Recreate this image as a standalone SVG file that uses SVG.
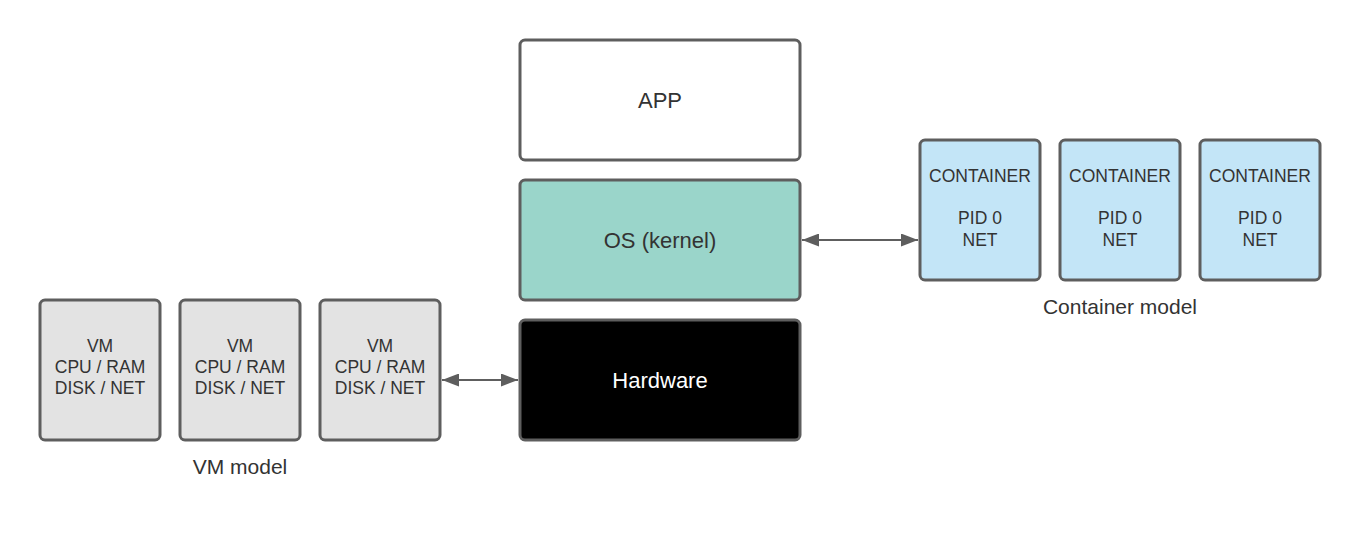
<svg xmlns="http://www.w3.org/2000/svg" width="1360" height="540" viewBox="0 0 1360 540">
<defs>
<marker id="ah" viewBox="0 0 17 13" refX="17" refY="6.5" markerWidth="17" markerHeight="13" markerUnits="userSpaceOnUse" orient="auto-start-reverse">
<path d="M0,0 L17,6.5 L0,13 Z" fill="#5e5e5e"/>
</marker>
</defs>
<style>
.box{stroke:#5e5e5e;stroke-width:3}
text{font-family:"Liberation Sans",Arial,sans-serif;fill:#333333;text-anchor:middle}
.big{font-size:22px}
.sm{font-size:17.5px}
.lbl{font-size:21px}
.conn{stroke:#5e5e5e;stroke-width:2;fill:none}
</style>
<rect width="1360" height="540" fill="#ffffff"/>
<g id="app"><rect class="box" x="520" y="40" width="280" height="120" rx="5" fill="#ffffff"/><text class="big" x="660" y="108">APP</text></g>
<g id="os"><rect class="box" x="520" y="180" width="280" height="120" rx="5" fill="#9ad5ca"/><text class="big" x="660" y="248">OS (kernel)</text></g>
<g id="hardware"><rect class="box" x="520" y="320" width="280" height="120" rx="5" fill="#000000"/><text class="big" x="660" y="388" style="fill:#ffffff">Hardware</text></g>
<g id="container1"><rect class="box" x="920" y="140" width="120" height="140" rx="5" fill="#c3e5f7"/><text class="sm" x="980" y="182">CONTAINER</text><text class="sm" x="980" y="224">PID 0</text><text class="sm" x="980" y="246">NET</text></g>
<g id="container2"><rect class="box" x="1060" y="140" width="120" height="140" rx="5" fill="#c3e5f7"/><text class="sm" x="1120" y="182">CONTAINER</text><text class="sm" x="1120" y="224">PID 0</text><text class="sm" x="1120" y="246">NET</text></g>
<g id="container3"><rect class="box" x="1200" y="140" width="120" height="140" rx="5" fill="#c3e5f7"/><text class="sm" x="1260" y="182">CONTAINER</text><text class="sm" x="1260" y="224">PID 0</text><text class="sm" x="1260" y="246">NET</text></g>
<g id="container-label"><text class="lbl" x="1120" y="314">Container model</text></g>
<g id="vm1"><rect class="box" x="40" y="300" width="120" height="140" rx="5" fill="#e3e3e3"/><text class="sm" x="100" y="352">VM</text><text class="sm" x="100" y="373">CPU / RAM</text><text class="sm" x="100" y="394">DISK / NET</text></g>
<g id="vm2"><rect class="box" x="180" y="300" width="120" height="140" rx="5" fill="#e3e3e3"/><text class="sm" x="240" y="352">VM</text><text class="sm" x="240" y="373">CPU / RAM</text><text class="sm" x="240" y="394">DISK / NET</text></g>
<g id="vm3"><rect class="box" x="320" y="300" width="120" height="140" rx="5" fill="#e3e3e3"/><text class="sm" x="380" y="352">VM</text><text class="sm" x="380" y="373">CPU / RAM</text><text class="sm" x="380" y="394">DISK / NET</text></g>
<g id="vm-label"><text class="lbl" x="240" y="474">VM model</text></g>
<g id="connectors">
<line class="conn" x1="802" y1="240" x2="918" y2="240" marker-start="url(#ah)" marker-end="url(#ah)"/>
<line class="conn" x1="442" y1="380" x2="518" y2="380" marker-start="url(#ah)" marker-end="url(#ah)"/>
</g>
</svg>
